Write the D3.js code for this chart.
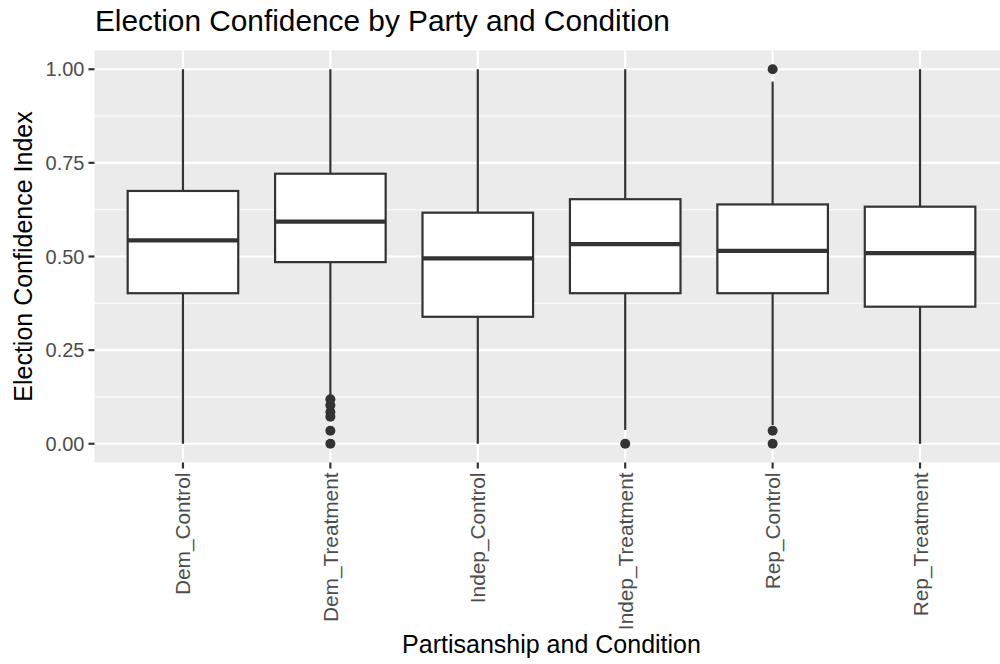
<!DOCTYPE html>
<html><head><meta charset="utf-8">
<script src="https://cdn.jsdelivr.net/npm/d3@7"></script>
<style>body{margin:0;background:#fff;} svg{display:block;font-family:"Liberation Sans",Arial,sans-serif;}</style>
</head><body><svg id="c" width="1000" height="664"></svg>
<script>
const categories = ["Dem_Control","Dem_Treatment","Indep_Control","Indep_Treatment","Rep_Control","Rep_Treatment"];
const q1 =      [0.402, 0.485, 0.339, 0.402, 0.402, 0.366];
const medians = [0.543, 0.593, 0.495, 0.533, 0.515, 0.509];
const q3 =      [0.675, 0.721, 0.617, 0.653, 0.639, 0.633];
const whiskerLow =  [0.000, 0.130, 0.000, 0.037, 0.050, 0.000];
const whiskerHigh = [1.000, 1.000, 1.000, 1.000, 0.967, 1.000];
const outliers = [
  [],
  [0.119, 0.103, 0.085, 0.072, 0.035, 0.000],
  [],
  [0.000],
  [1.000, 0.035, 0.000],
  []
];
const yTicks = [0, 0.25, 0.5, 0.75, 1.0];
const yMinor = [0.125, 0.375, 0.625, 0.875];
const title = "Election Confidence by Party and Condition";
const xTitle = "Partisanship and Condition";
const yTitle = "Election Confidence Index";

const svg = d3.select("#c");
const P = {left: 94.5, right: 1008.5, top: 50.5, bottom: 462.5};
const y = d3.scaleLinear().domain([-0.05, 1.05]).range([P.bottom, P.top]);
// discrete scale with 0.6 expansion on each side
const x = d3.scalePoint().domain(categories).range([P.left, P.right]).padding(0.6);
const step = x.step();
const cx = c => x(c);

svg.append("rect").attr("x", P.left).attr("y", P.top).attr("width", P.right - P.left).attr("height", P.bottom - P.top).attr("fill", "#EBEBEB");
const grid = svg.append("g");
grid.selectAll(".mn").data(yMinor).join("line").attr("x1", P.left).attr("x2", P.right).attr("y1", d => y(d)).attr("y2", d => y(d)).attr("stroke", "#fff").attr("stroke-width", 1.1);
grid.selectAll(".mj").data(yTicks).join("line").attr("x1", P.left).attr("x2", P.right).attr("y1", d => y(d)).attr("y2", d => y(d)).attr("stroke", "#fff").attr("stroke-width", 2.2);
grid.selectAll(".vx").data(categories).join("line").attr("x1", d => cx(d)).attr("x2", d => cx(d)).attr("y1", P.top).attr("y2", P.bottom).attr("stroke", "#fff").attr("stroke-width", 2.2);

const bw = step * 0.75;
const boxes = svg.append("g");
categories.forEach((c, i) => {
  const g = boxes.append("g");
  const xc = cx(c);
  g.append("line").attr("x1", xc).attr("x2", xc).attr("y1", y(q3[i])).attr("y2", y(whiskerHigh[i])).attr("stroke", "#333").attr("stroke-width", 2.2);
  g.append("line").attr("x1", xc).attr("x2", xc).attr("y1", y(q1[i])).attr("y2", y(whiskerLow[i])).attr("stroke", "#333").attr("stroke-width", 2.2);
  g.append("rect").attr("x", xc - bw/2).attr("y", y(q3[i])).attr("width", bw).attr("height", y(q1[i]) - y(q3[i])).attr("fill", "#fff").attr("stroke", "#333").attr("stroke-width", 2.2);
  g.append("line").attr("x1", xc - bw/2).attr("x2", xc + bw/2).attr("y1", y(medians[i])).attr("y2", y(medians[i])).attr("stroke", "#333").attr("stroke-width", 4.4);
  g.selectAll("circle").data(outliers[i]).join("circle").attr("cx", xc).attr("cy", d => y(d)).attr("r", 5).attr("fill", "#333");
});

// axes
const yAxis = svg.append("g");
yAxis.selectAll("line").data(yTicks).join("line").attr("x1", P.left - 6).attr("x2", P.left).attr("y1", d => y(d)).attr("y2", d => y(d)).attr("stroke", "#333").attr("stroke-width", 2.2);
yAxis.selectAll("text").data(yTicks).join("text").attr("x", P.left - 10).attr("y", d => y(d)).attr("dy", "0.36em").attr("text-anchor", "end").attr("font-size", 20).attr("fill", "#4D4D4D").text(d => d3.format(".2f")(d));
const xAxis = svg.append("g");
xAxis.selectAll("line").data(categories).join("line").attr("x1", d => cx(d)).attr("x2", d => cx(d)).attr("y1", P.bottom).attr("y2", P.bottom + 6).attr("stroke", "#333").attr("stroke-width", 2.2);
xAxis.selectAll("text").data(categories).join("text")
  .attr("transform", d => `translate(${cx(d)},${P.bottom + 10}) rotate(-90)`)
  .attr("text-anchor", "end").attr("dy", "0.36em").attr("font-size", 20.8).attr("fill", "#4D4D4D").text(d => d);

svg.append("text").attr("x", 95).attr("y", 31).attr("font-size", 29.8).attr("fill", "#000").text(title);
svg.append("text").attr("x", (P.left + P.right) / 2).attr("y", 653).attr("text-anchor", "middle").attr("font-size", 25).attr("fill", "#000").text(xTitle);
svg.append("text").attr("transform", `translate(32,${(P.top + P.bottom) / 2}) rotate(-90)`).attr("text-anchor", "middle").attr("font-size", 25).attr("fill", "#000").text(yTitle);
</script></body></html>
